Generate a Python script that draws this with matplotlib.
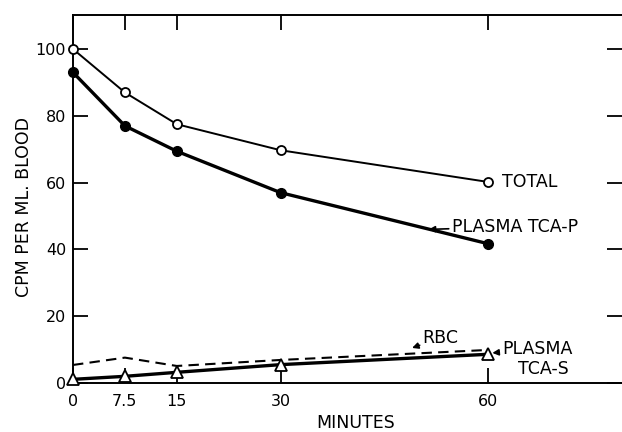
import matplotlib
matplotlib.use("Agg")
import matplotlib.pyplot as plt

# values
minutes = [0, 7.5, 15, 30, 60]
total = [100, 87, 77.5, 69.7, 60.2]
plasma_tca_p = [93, 77, 69.4, 57, 41.7]
rbc = [5.4, 7.6, 5.1, 6.9, 9.9]
plasma_tca_s = [1.1, 2.0, 3.2, 5.5, 8.6]
x_ticks = [0, 7.5, 15, 30, 60]
x_tick_labels = ["0", "7.5", "15", "30", "60"]
y_ticks = [0, 20, 40, 60, 80, 100]

plt.rcParams['font.family'] = ['DejaVu Sans']

W, H = 622, 432
fig = plt.figure(figsize=(W / 100, H / 100), dpi=100)
ax = fig.add_axes([73 / W, (H - 383) / H, (W - 73) / W, (383 - 15) / H])

ax.plot(minutes, total, color='black', lw=1.4, marker='o', ms=6.5,
        mfc='white', mec='black', mew=1.3, zorder=3, clip_on=False)
ax.plot(minutes, plasma_tca_p, color='black', lw=2.4, marker='o', ms=7,
        mfc='black', mec='black', zorder=3, clip_on=False)
ax.plot(minutes, rbc, color='black', lw=1.5, ls=(0, (5, 3)), zorder=2)
ax.plot(minutes, plasma_tca_s, color='black', lw=2.4, marker='^', ms=8,
        mfc='white', mec='black', mew=1.3, zorder=3, clip_on=False)

ax.set_xlim(0, 549 / 6.92)
ax.set_ylim(0, 110.2)

ax.set_xticks(x_ticks)
ax.set_xticklabels(x_tick_labels)
ax.set_yticks(y_ticks)
ax.set_yticklabels([str(v) for v in y_ticks])
ax.tick_params(direction='in', length=11, width=1.3, labelsize=11.5,
               top=True, right=True)
ax.tick_params(axis='x', pad=8)
ax.tick_params(axis='y', pad=5)
for s in ['left', 'bottom', 'top']:
    ax.spines[s].set_linewidth(1.4)
ax.spines['right'].set_visible(False)

fig.text(356 / W, 1 - 423 / H, "MINUTES", ha='center', va='center', fontsize=12.5)
fig.text(24 / W, 1 - 207 / H, "CPM PER ML. BLOOD", ha='center', va='center',
         rotation=90, fontsize=12.5)

# curve labels
ax.text(62.0, 60.2, "TOTAL", ha='left', va='center', fontsize=12.5)
ax.annotate("PLASMA TCA-P", xy=(51.4, 46.0), xytext=(54.7, 46.8),
            ha='left', va='center', fontsize=12.5,
            arrowprops=dict(arrowstyle='-|>', color='black', lw=1.2,
                            mutation_scale=9, shrinkA=0, shrinkB=0))
ax.annotate("RBC", xy=(49.0, 10.5), xytext=(50.5, 13.5),
            ha='left', va='center', fontsize=12.5,
            arrowprops=dict(arrowstyle='-|>', color='black', lw=1.2,
                            mutation_scale=9, shrinkA=0, shrinkB=0))
ax.annotate("PLASMA", xy=(60.6, 9.0), xytext=(62.0, 10.2),
            ha='left', va='center', fontsize=12.5,
            arrowprops=dict(arrowstyle='-|>', color='black', lw=1.2,
                            mutation_scale=9, shrinkA=0, shrinkB=0))
ax.text(64.3, 4.2, "TCA-S", ha='left', va='center', fontsize=12.5)

fig.savefig("out.png", dpi=100)
